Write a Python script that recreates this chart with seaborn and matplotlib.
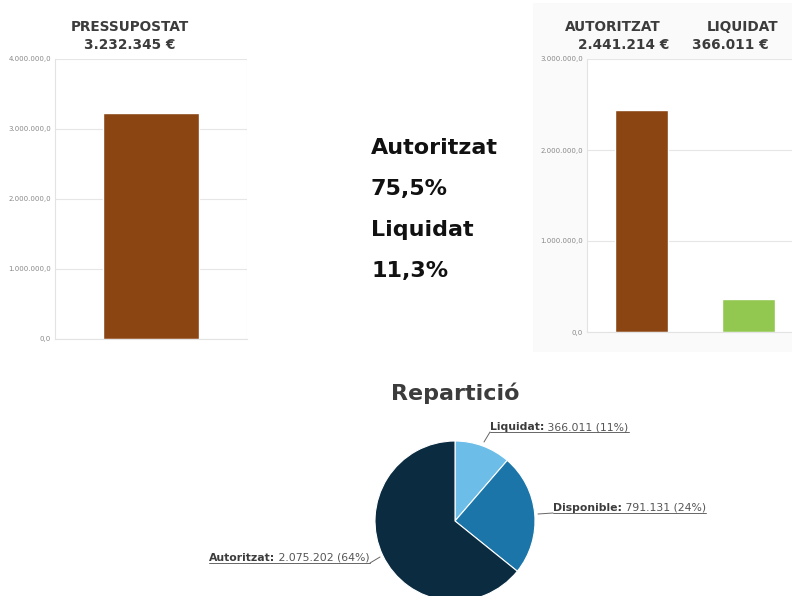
import matplotlib
matplotlib.use("Agg")
import matplotlib.pyplot as plt
import seaborn as sns
import pandas as pd
from matplotlib.lines import Line2D
from matplotlib.patches import Rectangle

# dades
pressupost_cat = ["PRESSUPOSTAT"]
pressupost_val = [3232345]
execucio_cat = ["AUTORITZAT", "LIQUIDAT"]
execucio_val = [2441214, 366011]
reparticio_cat = ["Liquidat", "Disponible", "Autoritzat"]
reparticio_val = [366011, 791131, 2075202]
reparticio_txt = ["366.011", "791.131", "2.075.202"]
pct_autoritzat = "75,5%"
pct_liquidat = "11,3%"

MARRO = "#8b4513"
VERD = "#92c84f"
BLAUS = ["#6cbde8", "#1b75a9", "#0a2b40"]
GRIS_TXT = "#3c3c3c"

sns.set_theme(style="whitegrid")
plt.rcParams["font.family"] = ["DejaVu Sans"]

W, H = 792, 596
fig = plt.figure(figsize=(W / 100, H / 100), dpi=100)


def px(x0, y0, x1, y1):
    # caixa en pixels (origen a dalt) -> coordenades de figura
    return [x0 / W, (H - y1) / H, (x1 - x0) / W, (y1 - y0) / H]


def fmt_eur(v, pos=None):
    s = f"{v:,.1f}".replace(",", "X").replace(".", ",").replace("X", ".")
    return s


def estil_eix(ax):
    ax.set_facecolor("white")
    ax.grid(axis="y", color="#e6e6e6", linewidth=0.8)
    ax.grid(axis="x", visible=False)
    for s in ["top", "right"]:
        ax.spines[s].set_visible(False)
    for s in ["left", "bottom"]:
        ax.spines[s].set_color("#e3e3e3")
        ax.spines[s].set_linewidth(0.8)
    ax.tick_params(axis="y", labelsize=5, labelcolor="#888888", length=2, color="#dddddd", pad=1)
    ax.tick_params(axis="x", bottom=False, labelbottom=False)
    ax.yaxis.set_major_formatter(plt.FuncFormatter(fmt_eur))
    ax.set_xlabel("")
    ax.set_ylabel("")


# panell gris dret
fig.add_artist(Rectangle((533 / W, (H - 352) / H), (W - 533) / W, 349 / H,
                         transform=fig.transFigure, facecolor="#fafafa", edgecolor="none", zorder=0))

# --- pressupostat
ax1 = fig.add_axes(px(55, 59, 247, 339))
df1 = pd.DataFrame({"cat": pressupost_cat, "val": pressupost_val})
sns.barplot(data=df1, x="cat", y="val", hue="cat", palette=[MARRO], width=0.5,
            legend=False, ax=ax1, saturation=1)
ax1.set_ylim(0, 4000000)
ax1.set_yticks([0, 1000000, 2000000, 3000000, 4000000])
estil_eix(ax1)
ax1.axvline(ax1.get_xlim()[1], color="#e6e6e6", linewidth=0.8)
fig.text(130 / W, 1 - 27 / H, "PRESSUPOSTAT", ha="center", va="center",
         fontsize=9.8, fontweight="bold", color=GRIS_TXT)
fig.text(130 / W, 1 - 45 / H, "3.232.345 €", ha="center", va="center",
         fontsize=9.8, fontweight="bold", color=GRIS_TXT)

# --- autoritzat / liquidat
ax2 = fig.add_axes(px(587, 59, 792, 332))
df2 = pd.DataFrame({"cat": execucio_cat, "val": execucio_val})
sns.barplot(data=df2, x="cat", y="val", hue="cat", palette=[MARRO, VERD], width=0.5,
            legend=False, ax=ax2, saturation=1)
ax2.set_xlim(-0.51, 1.41)
ax2.set_ylim(0, 3000000)
ax2.set_yticks([0, 1000000, 2000000, 3000000])
estil_eix(ax2)
fig.text(613 / W, 1 - 27 / H, "AUTORITZAT", ha="center", va="center",
         fontsize=9.8, fontweight="bold", color=GRIS_TXT)
fig.text(743 / W, 1 - 27 / H, "LIQUIDAT", ha="center", va="center",
         fontsize=9.8, fontweight="bold", color=GRIS_TXT)
fig.text(624 / W, 1 - 45 / H, "2.441.214 €", ha="center", va="center",
         fontsize=9.8, fontweight="bold", color=GRIS_TXT)
fig.text(730 / W, 1 - 45 / H, "366.011 €", ha="center", va="center",
         fontsize=9.8, fontweight="bold", color=GRIS_TXT)

# --- percentatges centrals
for yy, t in zip([148, 189, 230, 271], ["Autoritzat", pct_autoritzat, "Liquidat", pct_liquidat]):
    fig.text(371 / W, 1 - yy / H, t, ha="left", va="center",
             fontsize=16, fontweight="bold", color="#111111")

# --- repartició
fig.text(455 / W, 1 - 393 / H, "Repartició", ha="center", va="center",
         fontsize=16, fontweight="bold", color=GRIS_TXT)
ax3 = fig.add_axes(px(375, 441, 535, 601))
ax3.pie(reparticio_val, colors=BLAUS, startangle=90, counterclock=False,
        wedgeprops=dict(edgecolor="white", linewidth=0.8))
ax3.set_xlim(-1, 1)
ax3.set_ylim(-1, 1)
ax3.set_aspect("equal")
ax3.axis("off")

total = sum(reparticio_val)
# posicions de les etiquetes (px): x inici text, y base, alineacio, punt connector
etiquetes = [
    (490, 430, "left", [(484, 442), (490, 432)]),
    (553, 511, "left", [(538, 514), (553, 514)]),
    (370, 561, "right", [(380, 557), (370, 563)]),
]
fig.canvas.draw()
rend = fig.canvas.get_renderer()
for cat, txt, val, (x0, yb, al, conn) in zip(reparticio_cat, reparticio_txt, reparticio_val, etiquetes):
    pct = round(100 * val / total)
    bold = fig.text(0, 1 - yb / H, f"{cat}:", ha="left", va="baseline",
                    fontsize=7.8, fontweight="bold", color=GRIS_TXT)
    norm = fig.text(0, 1 - yb / H, f" {txt} ({pct}%)", ha="left", va="baseline",
                    fontsize=7.8, color="#555555")
    wb = bold.get_window_extent(rend).width
    wn = norm.get_window_extent(rend).width
    tot = wb + wn
    start = x0 if al == "left" else x0 - tot
    bold.set_x(start / W)
    norm.set_x((start + wb) / W)
    yl = yb + 2
    fig.add_artist(Line2D([start / W, (start + tot) / W], [1 - yl / H, 1 - yl / H],
                          color="#666666", linewidth=0.7, transform=fig.transFigure))
    (ax_, ay_), (bx_, by_) = conn
    by_ = yl
    fig.add_artist(Line2D([ax_ / W, bx_ / W], [1 - ay_ / H, 1 - by_ / H],
                          color="#666666", linewidth=0.7, transform=fig.transFigure))

fig.savefig("out.png", dpi=100, facecolor="white")
